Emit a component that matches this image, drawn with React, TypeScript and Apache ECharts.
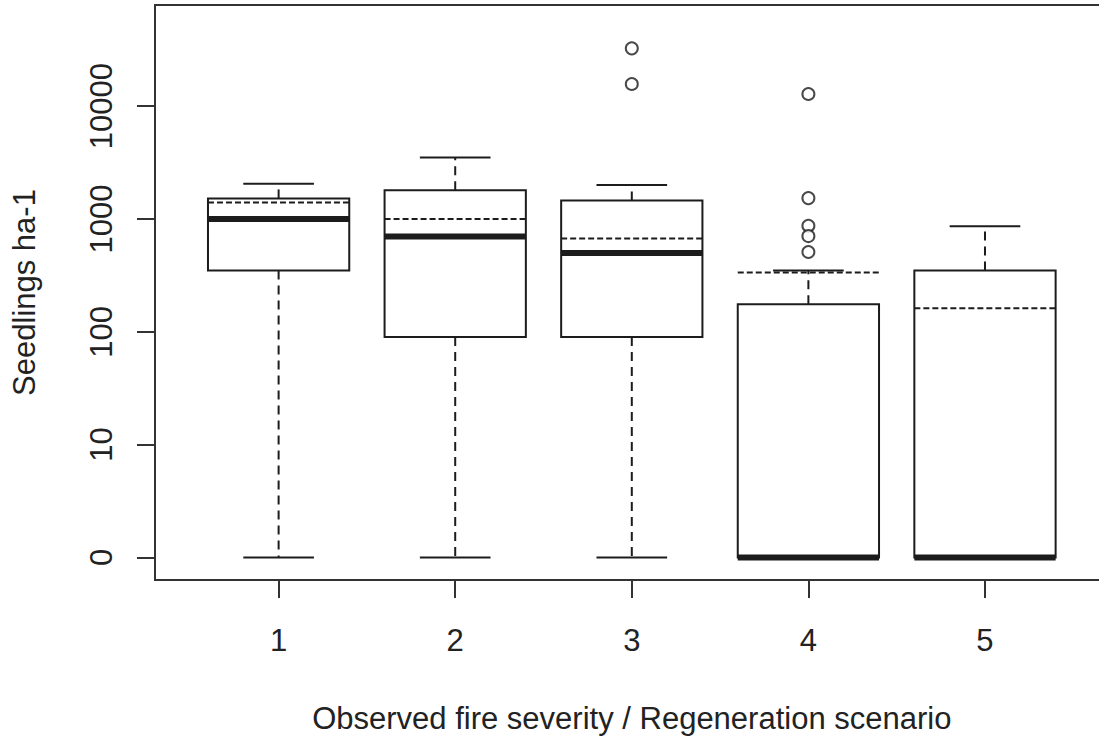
import React, { useEffect, useRef } from "react";
import * as echarts from "echarts";

const categories = ["1", "2", "3", "4", "5"];
const whiskerLow = [0, 0, 0, 0, 0];
const q1 = [350, 90, 90, 0, 0];
const median = [1000, 700, 500, 0, 0];
const q3 = [1520, 1800, 1460, 175, 350];
const whiskerHigh = [2050, 3500, 2000, 350, 860];
const means = [1400, 1000, 670, 335, 162];
const outlierGroup = [3, 3, 4, 4, 4, 4, 4];
const outlierValue = [32500, 15700, 12800, 1530, 870, 705, 509];
const yTickLabels = ["0", "10", "100", "1000", "10000"];

const toAxis = (v: number) => (v > 0 ? Math.log10(v) : 0);

const INK = "#1c1c1c";
const FONT = "Liberation Sans, Arial, sans-serif";

export default function App() {
  const ref = useRef<HTMLDivElement>(null);
  useEffect(() => {
    if (!ref.current) return;
    const chart = echarts.init(ref.current, null, { renderer: "svg" });
    const boxData = categories.map((_, i) => [
      i + 1,
      toAxis(whiskerLow[i]),
      toAxis(q1[i]),
      toAxis(median[i]),
      toAxis(q3[i]),
      toAxis(whiskerHigh[i]),
      toAxis(means[i]),
    ]);
    const outData = outlierGroup.map((g, i) => [g, toAxis(outlierValue[i])]);
    const tickPos = yTickLabels.map((_, i) => i);
    const line = (x1: number, y1: number, x2: number, y2: number, style: any) => ({
      type: "line",
      shape: { x1, y1, x2, y2 },
      style: { stroke: INK, lineWidth: 2, fill: null, ...style },
    });
    chart.setOption({
      animation: false,
      backgroundColor: "#fff",
      grid: {
        left: 155,
        top: 5,
        width: 953.6,
        height: 575,
        show: true,
        borderColor: "#333",
        borderWidth: 2,
        backgroundColor: "transparent",
        outerBoundsMode: "none",
        containLabel: false,
      },
      xAxis: {
        type: "value",
        min: 0.3,
        max: 5.7,
        axisLine: { show: false, onZero: false },
        splitLine: { show: false },
        axisTick: {
          show: true,
          inside: false,
          customValues: [1, 2, 3, 4, 5],
          length: 18,
          lineStyle: { color: "#333", width: 2 },
        },
        axisLabel: {
          customValues: [1, 2, 3, 4, 5],
          formatter: (v: number) => categories[Math.round(v) - 1] ?? "",
          color: "#222",
          fontSize: 31,
          fontFamily: FONT,
          margin: 45,
        },
        name: "Observed fire severity / Regeneration scenario",
        nameLocation: "middle",
        nameGap: 123,
        nameTextStyle: { color: "#222", fontSize: 31, fontFamily: FONT },
      },
      yAxis: {
        type: "value",
        min: -0.2,
        max: 4.896,
        axisLine: { show: false, onZero: false },
        splitLine: { show: false },
        axisTick: {
          show: true,
          inside: false,
          customValues: tickPos,
          length: 18,
          lineStyle: { color: "#333", width: 2 },
        },
        axisLabel: {
          customValues: tickPos,
          formatter: (v: number) => yTickLabels[Math.round(v)] ?? "",
          rotate: 90,
          color: "#222",
          fontSize: 31,
          fontFamily: FONT,
          margin: 38,
        },
        name: "Seedlings ha-1",
        nameLocation: "middle",
        nameGap: 115,
        nameRotate: 90,
        nameTextStyle: { color: "#222", fontSize: 31, fontFamily: FONT },
      },
      series: [
        {
          type: "custom",
          data: boxData,
          encode: { x: 0, y: [1, 2, 3, 4, 5, 6] },
          renderItem: (params: any, api: any) => {
            const x = api.value(0);
            const cx = api.coord([x, 0])[0];
            const yl = api.coord([x, api.value(1)])[1];
            const y1 = api.coord([x, api.value(2)])[1];
            const ym = api.coord([x, api.value(3)])[1];
            const y3 = api.coord([x, api.value(4)])[1];
            const yh = api.coord([x, api.value(5)])[1];
            const ymean = api.coord([x, api.value(6)])[1];
            const bw = api.size([0.8, 0])[0];
            const h = bw / 2;
            const c = bw / 4;
            const children: any[] = [];
            if (yh < y3 - 0.5) {
              children.push(line(cx, y3, cx, yh, { lineDash: [9, 6] }));
            }
            if (yl > y1 + 0.5) {
              children.push(line(cx, y1, cx, yl, { lineDash: [9, 6] }));
            }
            children.push(line(cx - c, yh, cx + c, yh, {}));
            children.push(line(cx - c, yl, cx + c, yl, {}));
            children.push({
              type: "rect",
              shape: { x: cx - h, y: y3, width: bw, height: y1 - y3 },
              style: { stroke: INK, lineWidth: 2, fill: null },
            });
            children.push(line(cx - h, ym, cx + h, ym, { lineWidth: 6 }));
            children.push(line(cx - h, ymean, cx + h, ymean, { lineDash: [6, 3], lineWidth: 2 }));
            return { type: "group", children };
          },
          z: 2,
        },
        {
          type: "scatter",
          data: outData,
          symbol: "circle",
          symbolSize: 12,
          itemStyle: { color: "#fff", borderColor: INK, borderWidth: 2 },
          z: 3,
        },
      ],
    });
    return () => chart.dispose();
  }, []);
  return (
    <div
      ref={ref}
      style={{ position: "absolute", left: 0, top: 0, width: 1099, height: 738, background: "#fff" }}
    />
  );
}
